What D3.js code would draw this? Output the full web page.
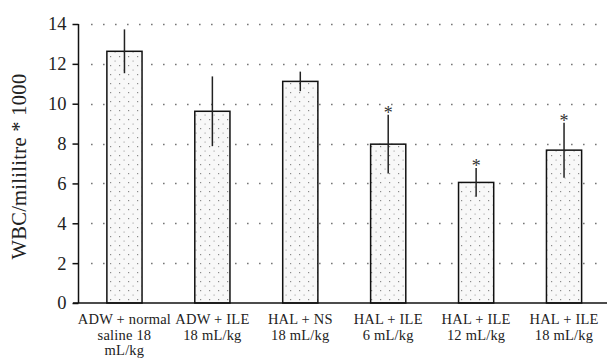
<!DOCTYPE html>
<html>
<head>
<meta charset="utf-8">
<script src="https://cdn.jsdelivr.net/npm/d3@7"></script>
<style>
  body { margin: 0; background: #fff; }
  svg { display: block; }
  text { font-family: "Liberation Serif", "DejaVu Serif", serif; fill: #222; }
</style>
</head>
<body>
<div id="chart"></div>
<script>
// Groups (x labels split into lines)
var groups = ["g1", "g2", "g3", "g4", "g5", "g6"];
var groupLabels = [
    ["ADW + normal", "saline 18", "mL/kg"],
    ["ADW + ILE", "18 mL/kg"],
    ["HAL + NS", "18 mL/kg"],
    ["HAL + ILE", "6 mL/kg"],
    ["HAL + ILE", "12 mL/kg"],
    ["HAL + ILE", "18 mL/kg"]
];
var means = [12.63, 9.62, 11.12, 7.97, 6.05, 7.67];
var errors = [1.1, 1.75, 0.49, 1.47, 0.72, 1.38];
var significant = [false, false, false, true, true, true];
var yTicks = [0, 2, 4, 6, 8, 10, 12, 14];

var W = 607, H = 360;
var margin = {top: 24, right: 0, bottom: 57, left: 79};
var height = H - margin.top - margin.bottom;

var svg = d3.select("#chart")
    .append("svg")
    .attr("width", W)
    .attr("height", H);

// dotted fill for bars
var defs = svg.append("defs");
var pat = defs.append("pattern")
    .attr("id", "dots")
    .attr("patternUnits", "userSpaceOnUse")
    .attr("width", 9)
    .attr("height", 9);
pat.append("rect").attr("width", 9).attr("height", 9).attr("fill", "#f8f8f8");
pat.append("rect").attr("x", 2).attr("y", 2).attr("width", 1.2).attr("height", 1.2).attr("fill", "#8a8a8a");
pat.append("rect").attr("x", 6.5).attr("y", 6.5).attr("width", 1.2).attr("height", 1.2).attr("fill", "#b0b0b0");

var xScale = d3.scaleBand()
    .domain(groups)
    .range([80.5, 608])
    .paddingInner(0.6)
    .paddingOuter(0.3);

var yScale = d3.scaleLinear()
    .domain([0, 14])
    .range([margin.top + height, margin.top]);

// Gridlines
svg.append("g")
    .selectAll("line")
    .data(yTicks.filter(d => d > 0))
    .enter()
    .append("line")
    .attr("x1", 91)
    .attr("x2", W)
    .attr("y1", d => Math.round(yScale(d)) + 0.5)
    .attr("y2", d => Math.round(yScale(d)) + 0.5)
    .attr("stroke", "#777")
    .attr("stroke-width", 1.6)
    .attr("stroke-dasharray", "1.6,10.4");

// Bars
svg.append("g")
    .selectAll("rect")
    .data(groups)
    .enter()
    .append("rect")
    .attr("x", d => xScale(d))
    .attr("y", (d, i) => yScale(means[i]))
    .attr("width", xScale.bandwidth())
    .attr("height", (d, i) => yScale(0) - yScale(means[i]))
    .attr("fill", "url(#dots)")
    .attr("stroke", "#111")
    .attr("stroke-width", 1.5);

// Error bars
svg.append("g")
    .selectAll("line")
    .data(groups)
    .enter()
    .append("line")
    .attr("x1", d => xScale(d) + xScale.bandwidth() / 2)
    .attr("x2", d => xScale(d) + xScale.bandwidth() / 2)
    .attr("y1", (d, i) => yScale(means[i] + errors[i]))
    .attr("y2", (d, i) => yScale(means[i] - errors[i]))
    .attr("stroke", "#222")
    .attr("stroke-width", 1.5);

// Asterisks
svg.append("g")
    .selectAll("text")
    .data(groups.filter((d, i) => significant[i]))
    .enter()
    .append("text")
    .attr("x", d => xScale(d) + xScale.bandwidth() / 2)
    .attr("y", d => {
        var i = groups.indexOf(d);
        return yScale(means[i] + errors[i]) + 4;
    })
    .attr("text-anchor", "middle")
    .attr("font-size", "18px")
    .style("fill", "#333")
    .text("*");

// Y axis
var yAxis = d3.axisLeft(yScale)
    .tickValues(yTicks)
    .tickSize(6)
    .tickPadding(6);

var gy = svg.append("g")
    .attr("transform", `translate(${margin.left - 0.5},0)`)
    .call(yAxis);
gy.select(".domain").attr("d", `M0,${yScale(14)}V${yScale(0)}`).attr("stroke", "#111").attr("stroke-width", 1.5);
gy.selectAll(".tick line").attr("stroke", "#111").attr("stroke-width", 1.5);
gy.selectAll(".tick text")
    .attr("font-family", null)
    .style("font-size", "18.5px")
    .style("fill", "#222");
gy.attr("font-family", null);

// X axis line
svg.append("line")
    .attr("x1", 73)
    .attr("x2", W)
    .attr("y1", yScale(0))
    .attr("y2", yScale(0))
    .attr("stroke", "#111")
    .attr("stroke-width", 1.5);

// X labels
var xl = svg.append("g")
    .selectAll("text")
    .data(groups)
    .enter()
    .append("text")
    .attr("x", d => xScale(d) + xScale.bandwidth() / 2)
    .attr("y", yScale(0) + 21)
    .attr("text-anchor", "middle")
    .attr("font-size", "14.5px")
    .attr("letter-spacing", "0.2px");
xl.selectAll("tspan")
    .data((d, i) => groupLabels[i])
    .enter()
    .append("tspan")
    .attr("x", function() { return d3.select(this.parentNode).attr("x"); })
    .attr("dy", (d, i) => i === 0 ? 0 : 15.5)
    .text(d => d);

// Y title
svg.append("text")
    .attr("transform", `translate(26,${(yScale(0) + yScale(14)) / 2 + 3}) rotate(-90)`)
    .attr("text-anchor", "middle")
    .attr("font-size", "20.5px")
    .attr("letter-spacing", "0.3px")
    .text("WBC/mililitre * 1000");
</script>
</body>
</html>
